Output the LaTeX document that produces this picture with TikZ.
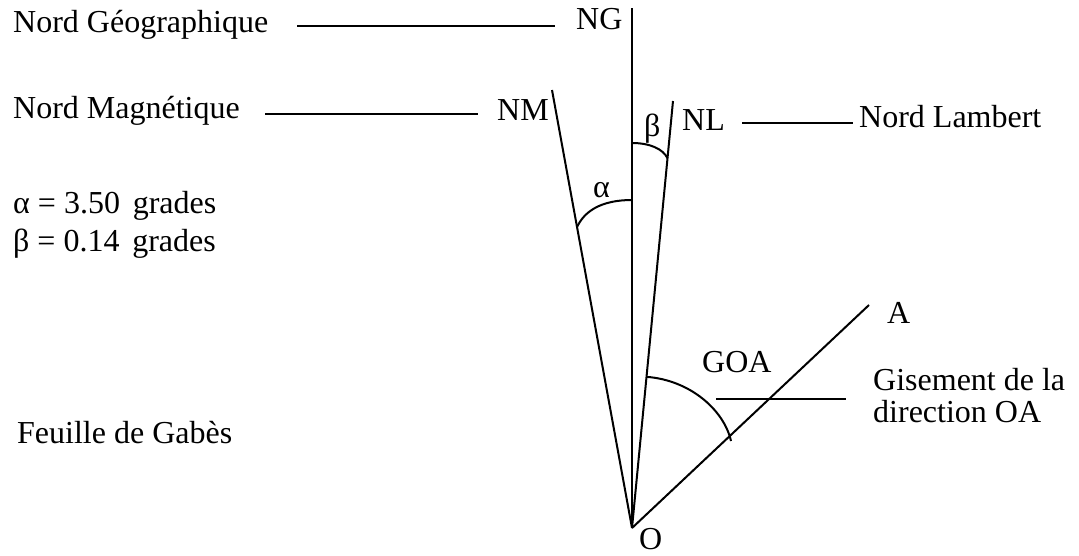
\documentclass[tikz,border=0pt]{standalone}
\usepackage{fontspec}
\setmainfont{Liberation Serif}
\usetikzlibrary{calc}
\begin{document}
\begin{tikzpicture}[x=1pt,y=-1pt,
  txt/.style={anchor=base west,inner sep=0pt,font=\fontsize{32}{37}\selectfont},
  ln/.style={line width=2pt,line cap=butt},
  leader/.style={line width=2pt}]
\useasboundingbox (0,0) rectangle (1079,555);
% main points
\coordinate (O) at (632,528);
\coordinate (NGtop) at (632,8);
\coordinate (NMtop) at (552,90);
\coordinate (NLtop) at (673,101);
\coordinate (Atop) at (869,305);
% main lines
\draw[ln] (O) -- (NGtop);
\draw[ln] (O) -- (NMtop);
\draw[ln] (O) -- (NLtop);
\draw[ln] (O) -- (Atop);
% arcs
\coordinate (aS) at (632,200);
\coordinate (aE) at ($(O)!0.687!(NMtop)$);
\draw[ln] (aS) .. controls (600,200) and (584,212) .. (aE);
\coordinate (bS) at (632,143);
\coordinate (bE) at ($(O)!0.866!(NLtop)$);
\draw[ln] (bS) .. controls (650,143) and (663,149) .. (bE);
\coordinate (gS) at ($(O)!0.354!(NLtop)$);
\coordinate (gE) at (731,441);
\draw[ln] (gS) .. controls (690,380) and (724,410) .. (gE);
% texts
\node[txt] (tNG) at (13,32) {Nord Géographique};
\node[txt] (tNM) at (13,118) {Nord Magnétique};
\node[txt] (tal) at (13,213) {α = 3.50\hspace{0.4em}grades};
\node[txt] (tbe) at (13,251) {β = 0.14\hspace{0.4em}grades};
\node[txt] (tFG) at (17,443) {Feuille de Gabès};
\node[txt] (lNG) at (576,29) {NG};
\node[txt] (lNM) at (497,120) {NM};
\node[txt] (lNL) at (682,130) {NL};
\node[txt] (tNL) at (859,127) {Nord Lambert};
\node[txt] (lb) at (644,136) {β};
\node[txt] (la) at (593,197) {α};
\node[txt] (lA) at (887,323) {A};
\node[txt] (lGOA) at (702,372) {GOA};
\node[txt] (tG1) at (873,390) {Gisement de la};
\node[txt] (tG2) at (873,422) {direction OA};
\node[txt] (lO) at (639,549) {O};
% leader lines
\coordinate (ng1) at (297,26); \coordinate (ng2) at (555,26);
\draw[leader] (ng1) -- (ng2);
\coordinate (nm1) at (265,114); \coordinate (nm2) at (478,114);
\draw[leader] (nm1) -- (nm2);
\coordinate (nl1) at (742,123); \coordinate (nl2) at (853,123);
\draw[leader] (nl1) -- (nl2);
\coordinate (gi1) at (716,399); \coordinate (gi2) at (846,399);
\draw[leader] (gi1) -- (gi2);
\end{tikzpicture}
\end{document}
